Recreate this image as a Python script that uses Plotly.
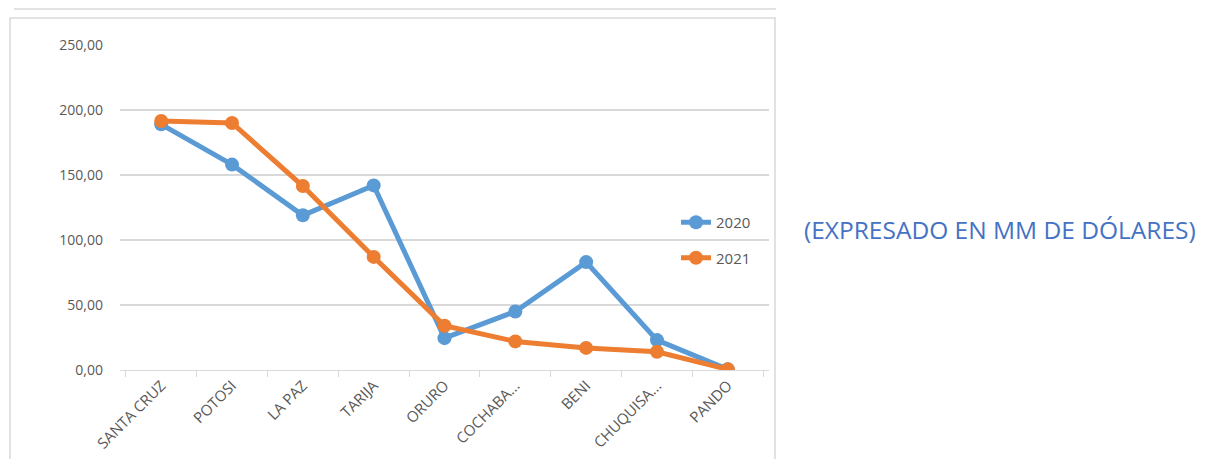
import plotly.graph_objects as go

W, H = 1203, 451  # window minus page body margin
OFF = 8  # page body margin

categories = ["SANTA CRUZ", "POTOSI", "LA PAZ", "TARIJA", "ORURO",
              "COCHABA...", "BENI", "CHUQUISA...", "PANDO"]
values_2020 = [189, 158, 119, 142, 24.5, 45, 83, 23, 0.5]
values_2021 = [191.5, 190, 141.5, 87, 34, 22, 17, 14, 0.5]
y_ticks = [0, 50, 100, 150, 200, 250]
note_text = "(EXPRESADO EN MM DE DÓLARES)"

BLUE = "#5B9BD5"
ORANGE = "#ED7D31"
GRID = "#D9D9D9"
TXT = "#595959"

def px_x(x):
    return (x - OFF) / W

def px_y(y):
    return 1 - (y - OFF) / H

fig = go.Figure()
for name, vals, col in [("2020", values_2020, BLUE), ("2021", values_2021, ORANGE)]:
    fig.add_trace(go.Scatter(
        x=categories, y=vals, name=name, legendgroup=name,
        mode="lines+markers",
        line=dict(color=col, width=5),
        marker=dict(color=col, size=14),
    ))

fig.update_layout(
    width=W, height=H,
    autosize=False,
    margin=dict(l=0, r=0, t=0, b=0, pad=0, autoexpand=False),
    paper_bgcolor="white", plot_bgcolor="white",
    separators=",.",
    font=dict(family="Open Sans, Liberation Sans, sans-serif", color=TXT, size=14),
    showlegend=True,
    legend=dict(x=px_x(676), y=px_y(206), xanchor="left", yanchor="top",
                bgcolor="rgba(0,0,0,0)", font=dict(size=15, color=TXT),
                itemwidth=30, tracegroupgap=13),
    xaxis=dict(domain=[px_x(120), px_x(769)], type="category", automargin=False,
               showgrid=False, showline=True, linecolor=GRID, linewidth=1,
               ticks="outside", tickson="boundaries", ticklen=6, tickcolor=GRID,
               tickangle=-45, tickfont=dict(size=15, color=TXT), zeroline=False),
    yaxis=dict(domain=[px_y(370), px_y(45)], range=[0, 250], automargin=False,
               tickvals=y_ticks, tickformat=".2f",
               showgrid=True, gridcolor=GRID, gridwidth=1.5,
               zeroline=False, showline=False, ticks="",
               ticklabelstandoff=16,
               tickfont=dict(size=14, color=TXT)),
    shapes=[
        dict(type="rect", xref="paper", yref="paper",
             x0=px_x(15), x1=px_x(775), y0=px_y(9), y1=1.05,
             line=dict(color=GRID, width=1.5), fillcolor="rgba(0,0,0,0)"),
        dict(type="rect", xref="paper", yref="paper",
             x0=px_x(10), x1=px_x(775), y0=-0.05, y1=px_y(18),
             line=dict(color=GRID, width=1.5), fillcolor="rgba(0,0,0,0)"),
    ],
    annotations=[
        dict(text=note_text, xref="paper", yref="paper",
             x=px_x(1000), y=px_y(229), xanchor="center", yanchor="middle",
             showarrow=False, font=dict(size=24.5, color="#4472C4",
                                         family="Open Sans, Liberation Sans, sans-serif")),
    ],
)

fig.write_html("out.html")
